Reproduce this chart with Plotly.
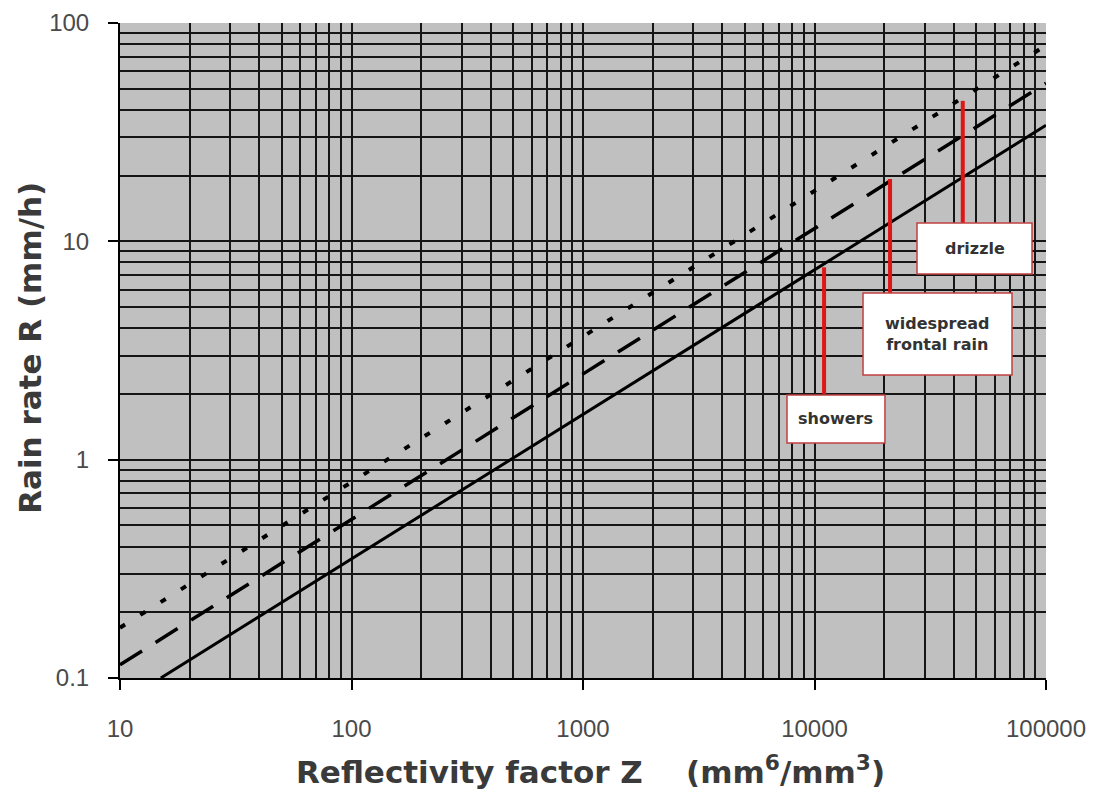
import plotly.graph_objects as go

# Z-R relations (straight lines on log-log axes)
z_showers = [15, 100000]
r_showers = [0.1, 34]
z_frontal = [10, 100000]
r_frontal = [0.115, 53]
z_drizzle = [10, 100000]
r_drizzle = [0.17, 79]

# red leader lines (Z position, R from / to)
leader_z = [11000, 21200, 43700]
leader_r_low = [2.0, 5.75, 12.0]
leader_r_high = [7.6, 19.3, 44]

x_tickvals = [10, 100, 1000, 10000, 100000]
x_ticktext = ["10", "100", "1000", "10000", "100000"]
y_tickvals = [0.1, 1, 10, 100]
y_ticktext = ["0.1", "1", "10", "100"]

labels = ["showers", "widespread<br>frontal rain", "drizzle"]

fig = go.Figure()

fig.add_trace(go.Scatter(x=z_showers, y=r_showers, mode="lines",
                         line=dict(color="black", width=3, dash="solid"),
                         hoverinfo="skip", showlegend=False))
fig.add_trace(go.Scatter(x=z_frontal, y=r_frontal, mode="lines",
                         line=dict(color="black", width=3.5, dash="26px,16px"),
                         hoverinfo="skip", showlegend=False))
fig.add_trace(go.Scatter(x=z_drizzle, y=r_drizzle, mode="lines",
                         line=dict(color="black", width=4, dash="6px,18px"),
                         hoverinfo="skip", showlegend=False))

for z, lo, hi in zip(leader_z, leader_r_low, leader_r_high):
    fig.add_trace(go.Scatter(x=[z, z], y=[lo, hi], mode="lines",
                             line=dict(color="#e01515", width=4),
                             hoverinfo="skip", showlegend=False))

# label boxes (paper coordinates)
boxes = [
    (0.7203, 0.3588, 0.8261, 0.4321),
    (0.8024, 0.4626, 0.9633, 0.5878),
    (0.8607, 0.6168, 0.9849, 0.6947),
]
for (x0, y0, x1, y1), txt in zip(boxes, labels):
    fig.add_shape(type="rect", xref="paper", yref="paper",
                  x0=x0, y0=y0, x1=x1, y1=y1,
                  fillcolor="white", line=dict(color="#c04040", width=1.5),
                  layer="above")
    fig.add_annotation(xref="paper", yref="paper",
                       x=(x0 + x1) / 2, y=(y0 + y1) / 2,
                       text="<b>" + txt + "</b>", showarrow=False,
                       font=dict(family="DejaVu Sans", size=16, color="#333333"),
                       align="center", xanchor="center", yanchor="middle")

# axis titles
fig.add_annotation(xref="paper", yref="paper", x=0.5086, y=-0.1405,
                   text="<b>Reflectivity factor Z\u00a0\u00a0\u00a0\u00a0(mm<sup>6</sup>/mm<sup>3</sup>)</b>",
                   showarrow=False, xanchor="center", yanchor="middle",
                   font=dict(family="DejaVu Sans", size=31, color="#3a3a3a"))
fig.add_annotation(xref="paper", yref="paper", x=-0.0972, y=0.504,
                   text="<b>Rain rate R (mm/h)</b>", textangle=-90,
                   showarrow=False, xanchor="center", yanchor="middle",
                   font=dict(family="DejaVu Sans", size=31, color="#3a3a3a"))

grid_col = "#151515"
fig.update_xaxes(type="log", range=[1, 5], automargin=False,
                 tickvals=x_tickvals, ticktext=x_ticktext,
                 ticks="outside", ticklen=10, tickwidth=2, tickcolor="black",
                 ticklabelstandoff=18,
                 showline=True, linecolor="black", linewidth=2,
                 showgrid=True, gridcolor=grid_col, gridwidth=2,
                 minor=dict(dtick="D1", showgrid=True, gridcolor=grid_col,
                            gridwidth=2, ticks=""),
                 tickfont=dict(family="Liberation Sans", size=24, color="#4a4a4a"),
                 zeroline=False)
fig.update_yaxes(type="log", range=[-1, 2], automargin=False,
                 tickvals=y_tickvals, ticktext=y_ticktext,
                 ticks="outside", ticklen=10, tickwidth=2, tickcolor="black",
                 ticklabelstandoff=14,
                 showline=True, linecolor="black", linewidth=2,
                 showgrid=True, gridcolor=grid_col, gridwidth=2,
                 minor=dict(dtick="D1", showgrid=True, gridcolor=grid_col,
                            gridwidth=2, ticks=""),
                 tickfont=dict(family="Liberation Sans", size=24, color="#4a4a4a"),
                 zeroline=False)

fig.update_layout(width=1096, height=791,
                  margin=dict(l=112, r=58, t=15, b=121),
                  paper_bgcolor="white", plot_bgcolor="#c0c0c0",
                  showlegend=False)

fig.write_html("out.html")
